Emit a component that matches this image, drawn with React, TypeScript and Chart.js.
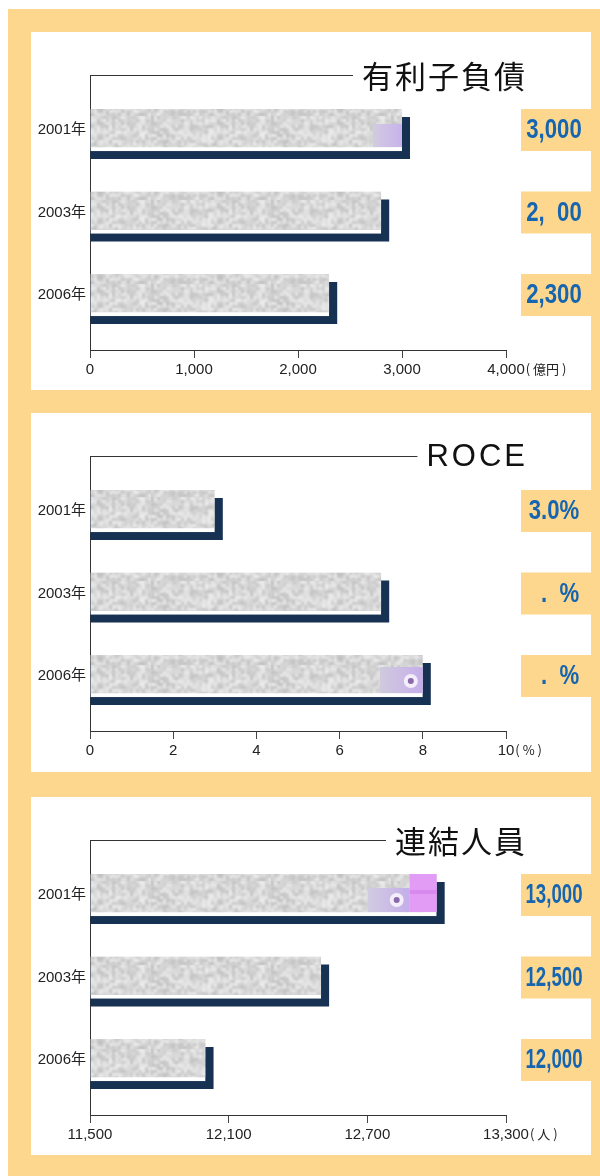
import React, { useEffect, useRef } from "react";
import { Chart, registerables } from "chart.js";

Chart.register(...registerables);

// ---- data ----
const years = ["2001年", "2003年", "2006年"];

const debtValues = [3000, 2800, 2300];
const debtLabels = ["3,000", "2, 00", "2,300"];
const debtTicks = [0, 1000, 2000, 3000, 4000];

const roceValues = [3.0, 7.0, 8.0];
const roceLabels = ["3.0%", " . %", " . %"];
const roceTicks = [0, 2, 4, 6, 8, 10];

const staffValues = [13000, 12500, 12000];
const staffLabels = ["13,000", "12,500", "12,000"];
const staffTicks = [11500, 12100, 12700, 13300];

// ---- styles ----
const ORANGE = "#FDD78E";
const NAVY = "#163152";
const BLUE = "#1565B0";
const FONT = "'Liberation Sans', 'Noto Sans CJK JP', sans-serif";
const CJK = "'Noto Sans CJK JP', 'Liberation Sans', sans-serif";

Chart.defaults.font.family = FONT;

function fract(v: number) {
  return v - Math.floor(v);
}

function makeTexture(): CanvasPattern | string {
  const w = 120;
  const h = 42;
  const c = document.createElement("canvas");
  c.width = w;
  c.height = h;
  const g = c.getContext("2d");
  if (!g) return "#d3d3d3";
  g.fillStyle = "#d4d4d4";
  g.fillRect(0, 0, w, h);
  for (let i = 0; i < w / 3; i++) {
    for (let j = 0; j < h / 3; j++) {
      const r = fract(Math.sin(i * 12.9898 + j * 78.233) * 43758.5453);
      const s = Math.round(192 + r * 46);
      g.fillStyle = `rgb(${s},${s},${s})`;
      g.fillRect(i * 3, j * 3, 3, 3);
    }
  }
  const c2 = document.createElement("canvas");
  c2.width = w;
  c2.height = h;
  const g2 = c2.getContext("2d");
  if (!g2) return "#d3d3d3";
  g2.fillStyle = "#d4d4d4";
  g2.fillRect(0, 0, w, h);
  g2.filter = "blur(1px)";
  g2.drawImage(c, 0, 0);
  return g2.createPattern(c2, "repeat") || "#d3d3d3";
}

type Accent = { row: number; kind: "low" | "ring" | "pink" };

type PanelProps = {
  title: string;
  titleFont: string;
  titleSpacing: number;
  values: number[];
  labels: string[];
  ticks: number[];
  unit: string;
  accent?: Accent;
};

function drawRing(ctx: CanvasRenderingContext2D, x: number, y: number) {
  ctx.fillStyle = "#f4eefa";
  ctx.beginPath();
  ctx.arc(x, y, 7, 0, Math.PI * 2);
  ctx.fill();
  ctx.fillStyle = "#8a6aa8";
  ctx.beginPath();
  ctx.arc(x, y, 3, 0, Math.PI * 2);
  ctx.fill();
}

function Panel(props: PanelProps) {
  const ref = useRef<HTMLCanvasElement>(null);
  useEffect(() => {
    const canvas = ref.current;
    if (!canvas) return;
    const { title, titleFont, titleSpacing, values, labels, ticks, unit, accent } = props;
    const pattern = makeTexture();

    const decor = {
      id: "decor",
      beforeDatasetsDraw(chart: any) {
        const ctx = chart.ctx as CanvasRenderingContext2D;
        const meta = chart.getDatasetMeta(0);
        const area = chart.chartArea;
        ctx.save();
        ctx.fillStyle = NAVY;
        meta.data.forEach((bar: any) => {
          const p = bar.getProps(["x", "y", "base", "height"], true);
          const left = Math.max(p.base, area.left);
          ctx.fillRect(left, p.y - p.height / 2 + 8, p.x + 8 - left, p.height);
        });
        ctx.restore();
      },
      afterDatasetsDraw(chart: any) {
        const ctx = chart.ctx as CanvasRenderingContext2D;
        const meta = chart.getDatasetMeta(0);
        ctx.save();
        meta.data.forEach((bar: any, i: number) => {
          const p = bar.getProps(["x", "y", "base", "height"], true);
          const top = p.y - p.height / 2;
          const bottom = p.y + p.height / 2 - 4;
          if (accent && accent.row === i) {
            if (accent.kind === "low") {
              const gr = ctx.createLinearGradient(p.x - 29, 0, p.x, 0);
              gr.addColorStop(0, "#d2cbe0");
              gr.addColorStop(1, "#c8b2ec");
              ctx.fillStyle = gr;
              ctx.fillRect(p.x - 29, top + 15, 29, bottom - top - 15);
            } else if (accent.kind === "ring") {
              const gr = ctx.createLinearGradient(p.x - 43, 0, p.x, 0);
              gr.addColorStop(0, "#d0cade");
              gr.addColorStop(1, "#c6aeea");
              ctx.fillStyle = gr;
              ctx.fillRect(p.x - 43, top + 12, 43, bottom - top - 12);
              drawRing(ctx, p.x - 12, p.y + 5);
            } else {
              const gr = ctx.createLinearGradient(p.x - 69, 0, p.x - 27, 0);
              gr.addColorStop(0, "#d2cbe0");
              gr.addColorStop(1, "#c4aeea");
              ctx.fillStyle = gr;
              ctx.fillRect(p.x - 69, top + 14, 42, bottom - top - 14);
              ctx.fillStyle = "#e39cf5";
              ctx.fillRect(p.x - 27, top, 27, bottom - top);
              ctx.fillStyle = "#d889f0";
              ctx.fillRect(p.x - 27, top + 16, 27, 4);
              drawRing(ctx, p.x - 40, p.y + 5);
            }
          }
          // value box
          ctx.fillStyle = ORANGE;
          ctx.fillRect(490, top, 70, p.height);
          // value text (missing characters kept as gaps)
          const txt: string = labels[i];
          ctx.font = `bold 27px ${FONT}`;
          const widths = txt.split("").map((ch) => ctx.measureText(ch === " " ? "0" : ch).width);
          const total = widths.reduce((a, b) => a + b, 0);
          const sx = Math.min(0.82, 57 / total);
          ctx.save();
          ctx.translate(523 - (total * sx) / 2, p.y + 1);
          ctx.scale(sx, 1);
          ctx.fillStyle = BLUE;
          ctx.textBaseline = "middle";
          ctx.textAlign = "left";
          let cx = 0;
          txt.split("").forEach((ch, k) => {
            if (ch !== " ") ctx.fillText(ch, cx, 0);
            cx += widths[k];
          });
          ctx.restore();
        });
        ctx.restore();
      },
      afterDraw(chart: any) {
        const ctx = chart.ctx as CanvasRenderingContext2D;
        const area = chart.chartArea;
        ctx.save();
        // title + leader line
        ctx.font = titleFont;
        (ctx as any).letterSpacing = `${titleSpacing}px`;
        const w = ctx.measureText(title).width;
        const startX = 494 + titleSpacing - w;
        ctx.fillStyle = "#111";
        ctx.textBaseline = "middle";
        ctx.textAlign = "left";
        ctx.fillText(title, startX, area.top + 1);
        (ctx as any).letterSpacing = "0px";
        ctx.strokeStyle = "#333";
        ctx.lineWidth = 1;
        ctx.beginPath();
        ctx.moveTo(area.left, area.top + 0.5);
        ctx.lineTo(startX - 9, area.top + 0.5);
        ctx.stroke();
        // unit after the last tick label
        const xs = chart.scales.x;
        const lastV = ticks[ticks.length - 1];
        const lastX = xs.getPixelForValue(lastV);
        ctx.font = `15px ${FONT}`;
        const lw = ctx.measureText(lastV.toLocaleString("en-US")).width;
        ctx.font = `13px ${CJK}`;
        ctx.fillStyle = "#222";
        ctx.textBaseline = "middle";
        ctx.fillText(`( ${unit} )`, lastX + lw / 2 + 1, area.bottom + 19);
        ctx.restore();
      },
    };

    const chart = new Chart(canvas, {
      type: "bar",
      data: {
        datasets: [
          {
            data: values.map((v, i) => ({ x: v, y: i })),
            base: ticks[0],
            backgroundColor: pattern as any,
            borderColor: "#ffffff",
            borderWidth: { top: 0, right: 0, bottom: 4, left: 0 },
            borderSkipped: false,
            barThickness: 42,
          },
        ],
      },
      options: {
        indexAxis: "y",
        responsive: false,
        animation: false,
        layout: { padding: { top: 43, right: 85, bottom: 0, left: 0 } },
        plugins: {
          legend: { display: false },
          tooltip: { enabled: false },
          title: { display: false },
        },
        scales: {
          x: {
            type: "linear",
            min: ticks[0],
            max: ticks[ticks.length - 1],
            afterBuildTicks: (s: any) => {
              s.ticks = ticks.map((v) => ({ value: v }));
            },
            afterFit: (s: any) => {
              s.height = 40;
            },
            ticks: {
              callback: (v: any) => Number(v).toLocaleString("en-US"),
              color: "#222",
              font: { size: 15 },
              padding: 3,
              maxRotation: 0,
              autoSkip: false,
            },
            grid: { drawOnChartArea: false, drawTicks: true, tickLength: 8, color: "#444" },
            border: { color: "#333", width: 1 },
          },
          y: {
            type: "linear",
            min: -2 / 3,
            max: 8 / 3,
            reverse: true,
            offset: false,
            z: 1,
            afterBuildTicks: (s: any) => {
              s.ticks = years.map((_, i) => ({ value: i }));
            },
            afterFit: (s: any) => {
              s.width = 59;
            },
            ticks: {
              callback: (v: any) => years[v as number],
              color: "#222",
              font: { size: 15 },
              padding: 4,
              autoSkip: false,
            },
            grid: { display: false, drawTicks: false, offset: false },
            border: { color: "#333", width: 1 },
          },
        },
      } as any,
      plugins: [decor],
    });
    return () => chart.destroy();
  }, []);
  return <canvas ref={ref} width={560} height={358} style={{ display: "block" }} />;
}

export default function App() {
  const panel = (top: number, h: number): React.CSSProperties => ({
    position: "absolute",
    left: 23,
    top,
    width: 560,
    height: h,
    background: "#ffffff",
    overflow: "hidden",
  });
  return (
    <div
      style={{
        position: "absolute",
        left: 8,
        top: 9,
        width: 592,
        height: 1167,
        background: ORANGE,
      }}
    >
      <div style={panel(23, 358)}>
        <Panel
          title="有利子負債"
          titleFont={`31px ${CJK}`}
          titleSpacing={2}
          values={debtValues}
          labels={debtLabels}
          ticks={debtTicks}
          unit="億円"
          accent={{ row: 0, kind: "low" }}
        />
      </div>
      <div style={panel(404, 359)}>
        <Panel
          title="ROCE"
          titleFont={`31px ${FONT}`}
          titleSpacing={3}
          values={roceValues}
          labels={roceLabels}
          ticks={roceTicks}
          unit="%"
          accent={{ row: 2, kind: "ring" }}
        />
      </div>
      <div style={panel(788, 358)}>
        <Panel
          title="連結人員"
          titleFont={`31px ${CJK}`}
          titleSpacing={2}
          values={staffValues}
          labels={staffLabels}
          ticks={staffTicks}
          unit="人"
          accent={{ row: 0, kind: "pink" }}
        />
      </div>
    </div>
  );
}
